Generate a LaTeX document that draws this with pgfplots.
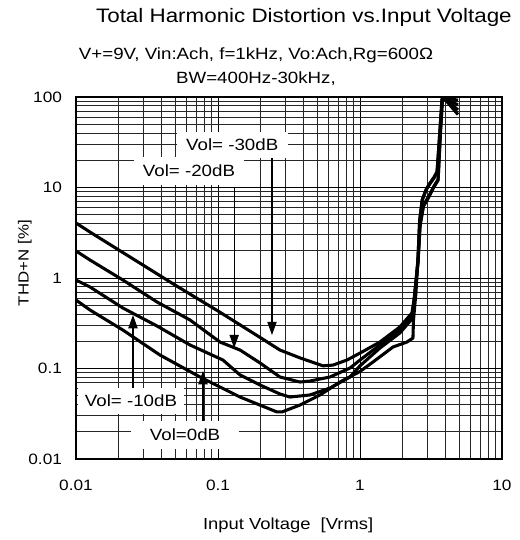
\documentclass[border=0pt]{standalone}
\usepackage{fontspec}
\setmainfont{Liberation Sans}[FakeStretch=1.15]
\usepackage{pgfplots}
\pgfplotsset{compat=1.18}
\usepackage{pgfplotstable}
\usetikzlibrary{arrows.meta}

\pgfplotstableread{
x y
0.01 4.05
0.01255 3.22
0.02 2.04
0.0498 0.837
0.1 0.432
0.201 0.217
0.273 0.160
0.378 0.131
0.549 0.107
0.645 0.109
0.809 0.124
1.0 0.148
1.38 0.196
1.91 0.288
2.32 0.410
2.40 0.571
2.56 1.50
2.65 3.9
2.80 6.4
3.05 8.0
3.30 10.2
3.55 12.3
3.68 40
3.80 90
3.86 100
4.90 92
}\curveA

\pgfplotstableread{
x y
0.01 1.99
0.01255 1.58
0.0214 0.95
0.0372 0.543
0.0635 0.344
0.1033 0.196
0.143 0.160
0.198 0.115
0.273 0.0806
0.378 0.0709
0.444 0.0727
0.615 0.0806
0.851 0.1013
1.0 0.124
1.38 0.182
1.91 0.266
2.32 0.380
2.40 0.54
2.56 1.45
2.65 3.8
2.80 6.2
3.05 7.8
3.30 10.0
3.55 12.0
3.68 38
3.80 88
3.86 98
4.90 82
}\curveB

\pgfplotstableread{
x y
0.01 0.95
0.01255 0.796
0.0214 0.466
0.0372 0.295
0.0635 0.182
0.1084 0.124
0.143 0.0848
0.198 0.0657
0.273 0.0523
0.321 0.0484
0.444 0.0510
0.615 0.0609
0.851 0.0806
1.0 0.107
1.38 0.168
1.91 0.247
2.32 0.352
2.40 0.52
2.56 1.6
2.63 4.2
2.74 7.2
2.92 9.4
3.11 11.0
3.32 12.7
3.49 14.8
3.66 43
3.78 93
3.84 100
4.90 72
}\curveC

\pgfplotstableread{
x y
0.01 0.571
0.01255 0.443
0.0214 0.266
0.039 0.141
0.0747 0.0806
0.143 0.0484
0.26 0.0331
0.282 0.0331
0.378 0.0395
0.523 0.0510
0.723 0.0709
1.0 0.0927
1.235 0.118
1.71 0.173
2.14 0.196
2.36 0.217
2.38 0.34
2.48 0.70
2.56 1.62
2.63 4.3
2.74 7.3
2.92 9.5
3.11 11.2
3.32 13.0
3.49 15.0
3.66 44
3.78 94
3.84 100
4.90 64
}\curveD

\begin{document}
\begin{tikzpicture}
\begin{axis}[
  xmode=log, ymode=log,
  scale only axis, width=319.5pt, height=271.5pt,
  xmin=0.01, xmax=10, ymin=0.01, ymax=100,
  xtick={0.01,0.1,1,10}, xticklabels={0.01,0.1,1,10},
  ytick={0.01,0.1,1,10,100}, yticklabels={0.01,0.1,1,10,100},
  grid=both,
  major grid style={black, line width=0.7pt},
  minor grid style={black!85, line width=0.55pt},
  major tick length=0pt, minor tick length=0pt,
  axis line style={line width=1.2pt},
  tick label style={font=\fontsize{11.25}{13}\selectfont},
  xticklabel style={anchor=center, yshift=-19.5pt},
  yticklabel style={anchor=east, xshift=-7pt},
  xlabel={Input Voltage\ \ [Vrms]},
  ylabel={THD+N [\%]},
  xlabel style={at={(rel axis cs:0.498,-0.182)}, anchor=center, font=\fontsize{12}{14}\selectfont},
  ylabel style={at={(rel axis cs:-0.12,0.541)}, anchor=center, font=\fontsize{11}{13}\selectfont},
  clip mode=individual,
  thdcurve/.style={black, line width=2.3pt, line join=round, mark=none},
]
\addplot[thdcurve] table[x=x,y=y] {\curveA};
\addplot[thdcurve] table[x=x,y=y] {\curveB};
\addplot[thdcurve] table[x=x,y=y] {\curveC};
\addplot[thdcurve] table[x=x,y=y] {\curveD};

% arrows
\draw[line width=0.8pt, -{Triangle[width=7pt,length=10pt]}] (axis cs:0.240,21.2) -- (axis cs:0.240,0.234);
\draw[line width=0.8pt, -{Triangle[width=7pt,length=10pt]}] (axis cs:0.130,10.1) -- (axis cs:0.130,0.168);
\draw[line width=0.8pt, -{Triangle[width=7pt,length=10pt]}] (axis cs:0.0252,0.0609) -- (axis cs:0.0252,0.39);
\draw[line width=0.8pt, -{Triangle[width=7pt,length=10pt]}] (axis cs:0.0784,0.022) -- (axis cs:0.0784,0.0938);

% labels
\node[fill=white, inner xsep=7pt, inner ysep=5pt, font=\fontsize{12.2}{14}\selectfont] at (axis cs:0.126,29.5) {Vol= -30dB};
\node[fill=white, inner xsep=7pt, inner ysep=6pt, font=\fontsize{12.2}{14}\selectfont] at (axis cs:0.0625,15.2) {Vol= -20dB};
\node[fill=white, inner xsep=5pt, inner ysep=5pt, font=\fontsize{12.2}{14}\selectfont] at (axis cs:0.0244,0.0437) {Vol= -10dB};
\node[fill=white, inner xsep=14pt, inner ysep=6pt, font=\fontsize{12.2}{14}\selectfont] at (axis cs:0.0586,0.0184) {Vol=0dB};

% titles
\node[font=\fontsize{14.6}{16}\selectfont] at (rel axis cs:0.535,1.221) {Total Harmonic Distortion vs.Input Voltage};
\node[font=\fontsize{12.2}{18}\selectfont, align=center] at (rel axis cs:0.4225,1.083) {V+=9V, Vin:Ach, f=1kHz, Vo:Ach,Rg=600Ω\\BW=400Hz-30kHz,};

\coordinate (pSW) at (rel axis cs:0,0);
\coordinate (pNE) at (rel axis cs:1,1);
\end{axis}
\pgfresetboundingbox
\path[use as bounding box] ([xshift=-57pt,yshift=-60.75pt]pSW) rectangle ([xshift=13.5pt,yshift=72.75pt]pNE);
\end{tikzpicture}
\end{document}
